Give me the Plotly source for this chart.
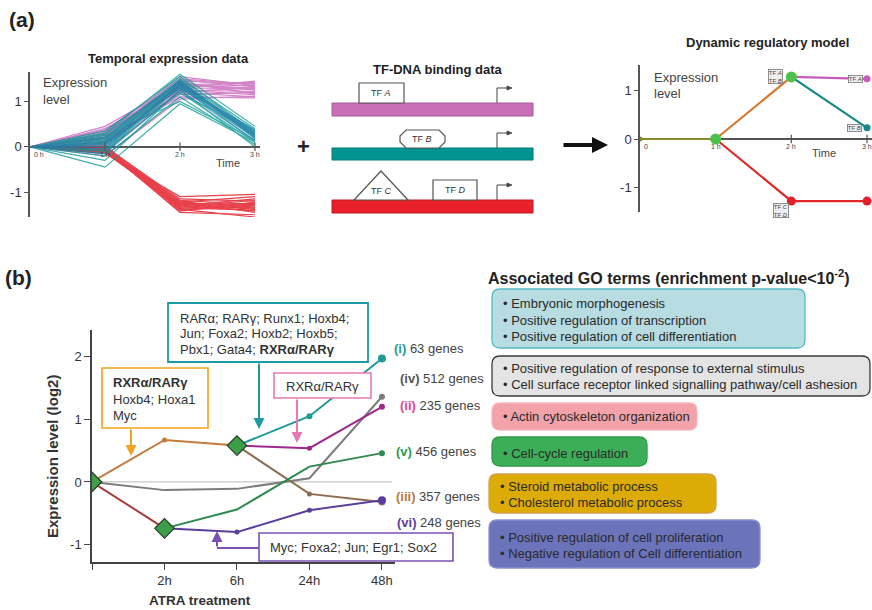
import plotly.graph_objects as go

W, H = 872, 610
FONT = "Liberation Sans, Arial, sans-serif"
TXT = "#333333"

def X(p):
    return p / W

def Y(p):
    return 1 - p / H

# ---------------- DATA ----------------
# Panel (a) left: temporal expression profiles (0h, 1h, 2h, 3h)
hours_a = [0, 1, 2, 3]
hour_labels_a = ["0 h", "1 h", "2 h", "3 h"]
magenta_profiles = [
    [0, 0.25, 1.35, 1.30], [0, 0.30, 1.45, 1.40], [0, 0.20, 1.25, 1.15], [0, 0.35, 1.50, 1.38],
    [0, 0.15, 1.20, 1.10], [0, 0.28, 1.40, 1.25], [0, 0.10, 1.15, 1.20], [0, 0.40, 1.30, 1.45],
    [0, 0.22, 1.55, 1.35], [0, 0.18, 1.10, 1.08], [0, 0.05, 1.30, 1.28], [0, -0.10, 1.25, 1.22],
    [0, 0.32, 1.42, 1.18], [0, 0.12, 1.48, 1.32], [0, -0.20, 1.05, 1.12], [0, 0.45, 1.38, 1.26],
    [0, 0.26, 1.32, 1.36], [0, 0.08, 1.44, 1.16], [0, 0.38, 1.22, 1.30], [0, 0.16, 1.36, 1.42],
]
red_profiles = [
    [0, -0.05, -1.25, -1.30], [0, 0.00, -1.15, -1.20], [0, -0.10, -1.35, -1.40], [0, -0.02, -1.30, -1.15],
    [0, -0.08, -1.20, -1.45], [0, 0.00, -1.40, -1.30], [0, -0.15, -1.10, -1.05], [0, -0.05, -1.45, -1.50],
    [0, -0.03, -1.28, -1.25], [0, -0.12, -1.32, -1.35], [0, 0.02, -1.22, -1.10], [0, -0.06, -1.38, -1.55],
    [0, -0.04, -1.18, -1.28], [0, -0.09, -1.26, -1.38], [0, 0.01, -1.33, -1.18], [0, -0.07, -1.42, -1.22],
    [0, -0.11, -1.24, -1.33], [0, -0.01, -1.36, -1.26], [0, -0.13, -1.29, -1.42], [0, -0.04, -1.21, -1.36],
]
teal_profiles = [
    [0, 0.10, 1.40, 0.30], [0, 0.20, 1.50, 0.40], [0, 0.00, 1.30, 0.20], [0, -0.10, 1.20, 0.10],
    [0, 0.30, 1.60, 0.45], [0, 0.15, 1.35, 0.25], [0, -0.20, 1.10, 0.05], [0, 0.05, 1.45, 0.35],
    [0, 0.25, 1.00, 0.15], [0, -0.30, 1.25, 0.00], [0, -0.45, 0.95, 0.10], [0, 0.35, 1.55, 0.30],
    [0, 0.12, 1.42, 0.28], [0, -0.05, 1.38, 0.22], [0, 0.18, 1.28, 0.38], [0, -0.15, 1.48, 0.18],
    [0, 0.08, 1.18, 0.32], [0, 0.22, 1.33, 0.12], [0, 0.02, 1.36, 0.26], [0, 0.14, 1.46, 0.20],
    [0, -0.08, 1.32, 0.34], [0, 0.28, 1.40, 0.24],
]
blue_profiles = [
    [0, 0.10, 1.30, 0.25], [0, -0.05, 1.40, 0.30], [0, 0.20, 1.45, 0.20],
    [0, -0.15, 1.25, 0.15], [0, 0.00, 1.38, 0.35], [0, 0.06, 1.34, 0.28],
]

# Panel (a) right: dynamic regulatory model
model_hours = [0, 1, 2, 3]
model_early = [0.0, 0.0]          # 0h -> 1h
model_up = [0.0, 1.28]            # 1h -> 2h
model_down = [0.0, -1.28]         # 1h -> 2h
model_tfA = [1.28, 1.24]          # 2h -> 3h
model_tfB = [1.28, 0.23]          # 2h -> 3h
model_tfCD = [-1.28, -1.28]       # 2h -> 3h

# Panel (b): expression paths (0, 2h, 6h, 24h, 48h)
time_b = [0, 1, 2, 3, 4]
time_labels_b = ["", "2h", "6h", "24h", "48h"]
path_i = [None, None, 0.58, 1.05, 1.97]
path_ii = [None, None, 0.58, 0.54, 1.20]
path_iii_early = [0.0, 0.67, 0.58, None, None]
path_iii_late = [None, None, 0.58, -0.19, -0.32]
path_iv = [0.0, -0.13, -0.11, 0.06, 1.36]
path_v = [None, -0.74, -0.44, 0.245, 0.46]
path_vi = [None, -0.74, -0.80, -0.45, -0.29]
path_down_early = [0.0, -0.74, None, None, None]
baseline_b = [0, 0]
baseline_x = [0, 4.14]
split_nodes_x = [0, 1, 2]
split_nodes_y = [0.0, -0.74, 0.58]

gene_labels = [
    ("(i)", "63 genes", "#1f9a96"),
    ("(iv)", "512 genes", "#555555"),
    ("(ii)", "235 genes", "#d9479a"),
    ("(v)", "456 genes", "#2e9a4e"),
    ("(iii)", "357 genes", "#b87a3c"),
    ("(vi)", "248 genes", "#5b3d9e"),
]

go_terms = [
    ["• Embryonic morphogenesis", "• Positive regulation of transcription",
     "• Positive regulation of cell differentiation"],
    ["• Positive regulation of response to external stimulus",
     "• Cell surface receptor linked signalling pathway/cell ashesion"],
    ["• Actin cytoskeleton organization"],
    ["• Cell-cycle regulation"],
    ["• Steroid metabolic process", "• Cholesterol metabolic process"],
    ["• Positive regulation of cell proliferation", "• Negative regulation of Cell differentiation"],
]

# ---------------- FIGURE ----------------
fig = go.Figure()


def cluster_trace(profiles, color, xa, ya, width=1.2, opacity=0.75):
    xs, ys = [], []
    for p in profiles:
        xs += hours_a + [None]
        ys += p + [None]
    return go.Scatter(x=xs, y=ys, mode="lines", line=dict(color=color, width=width),
                      opacity=opacity, xaxis=xa, yaxis=ya, hoverinfo="skip", showlegend=False)


fig.add_trace(cluster_trace(magenta_profiles, "#c55bb6", "x", "y"))
fig.add_trace(cluster_trace(red_profiles, "#e4202c", "x", "y", opacity=0.85))
fig.add_trace(cluster_trace(teal_profiles, "#0a9a95", "x", "y", opacity=0.8))
fig.add_trace(cluster_trace(blue_profiles, "#2d6fb5", "x", "y", opacity=0.6))
fig.add_trace(go.Scatter(x=hours_a[1:], y=[0, 0, 0], mode="markers",
                         marker=dict(symbol="line-ns", size=6, line=dict(color="#555", width=1.2)),
                         xaxis="x", yaxis="y", hoverinfo="skip", showlegend=False))

# Panel (a) right
def seg(xs, ys, color, width=2.2):
    return go.Scatter(x=xs, y=ys, mode="lines", line=dict(color=color, width=width),
                      xaxis="x2", yaxis="y2", hoverinfo="skip", showlegend=False)

fig.add_trace(seg(model_hours[0:2], model_early, "#8a8a2a"))
fig.add_trace(seg(model_hours[1:3], model_up, "#d67a32"))
fig.add_trace(seg(model_hours[1:3], model_down, "#e02a2a"))
fig.add_trace(seg(model_hours[2:4], model_tfA, "#c65cb8"))
fig.add_trace(seg(model_hours[2:4], model_tfB, "#138a86"))
fig.add_trace(seg(model_hours[2:4], model_tfCD, "#e02a2a"))
fig.add_trace(go.Scatter(x=model_hours[1:4], y=[0, 0, 0], mode="markers",
                         marker=dict(symbol="line-ns", size=6, line=dict(color="#555", width=1.2)),
                         xaxis="x2", yaxis="y2", hoverinfo="skip", showlegend=False))
fig.add_trace(go.Scatter(x=[model_hours[0]], y=[model_early[0]], mode="markers",
                         marker=dict(color="#8a8a2a", size=5), xaxis="x2", yaxis="y2",
                         hoverinfo="skip", showlegend=False))
fig.add_trace(go.Scatter(x=[model_hours[1], model_hours[2]], y=[model_early[1], model_up[1]],
                         mode="markers", marker=dict(color="#4cc24c", size=11),
                         xaxis="x2", yaxis="y2", hoverinfo="skip", showlegend=False))
fig.add_trace(go.Scatter(x=[model_hours[2], model_hours[3]], y=[model_down[1], model_tfCD[1]],
                         mode="markers", marker=dict(color="#e4202c", size=9),
                         xaxis="x2", yaxis="y2", hoverinfo="skip", showlegend=False))
fig.add_trace(go.Scatter(x=[model_hours[3]], y=[model_tfA[1]], mode="markers",
                         marker=dict(color="#c65cb8", size=7), xaxis="x2", yaxis="y2",
                         hoverinfo="skip", showlegend=False))
fig.add_trace(go.Scatter(x=[model_hours[3]], y=[model_tfB[1]], mode="markers",
                         marker=dict(color="#138a86", size=7), xaxis="x2", yaxis="y2",
                         hoverinfo="skip", showlegend=False))

# Panel (b)
def bline(ys, color, width=2):
    return go.Scatter(x=time_b, y=ys, mode="lines", line=dict(color=color, width=width),
                      connectgaps=False, xaxis="x3", yaxis="y3", hoverinfo="skip", showlegend=False)

def bdots(idx, ys, color, size):
    return go.Scatter(x=[time_b[i] for i in idx], y=[ys[i] for i in idx], mode="markers",
                      marker=dict(color=color, size=size), xaxis="x3", yaxis="y3",
                      hoverinfo="skip", showlegend=False)

fig.add_trace(go.Scatter(x=baseline_x, y=baseline_b, mode="lines",
                         line=dict(color="#c8c8c8", width=1.2), xaxis="x3", yaxis="y3",
                         hoverinfo="skip", showlegend=False))
fig.add_trace(bline(path_iv, "#7c7c7c"))
fig.add_trace(bline(path_iii_late, "#8c6c50"))
fig.add_trace(bline(path_iii_early, "#c47a3a"))
fig.add_trace(bline(path_down_early, "#a83c3c"))
fig.add_trace(bline(path_v, "#2e8a4e"))
fig.add_trace(bline(path_vi, "#5b3d9e"))
fig.add_trace(bline(path_ii, "#9c2a8c"))
fig.add_trace(bline(path_i, "#1f9a96"))
fig.add_trace(bdots([1], path_iii_early, "#c47a3a", 5))
fig.add_trace(bdots([3], path_iii_late, "#8c6c50", 5))
fig.add_trace(bdots([4], path_iii_late, "#8c6c50", 7))
fig.add_trace(bdots([4], path_iv, "#7c7c7c", 6))
fig.add_trace(bdots([3], path_ii, "#9c2a8c", 5))
fig.add_trace(bdots([4], path_ii, "#9c2a8c", 6))
fig.add_trace(bdots([3], path_i, "#1f9a96", 6))
fig.add_trace(bdots([4], path_i, "#1f9a96", 8))
fig.add_trace(bdots([4], path_v, "#2e8a4e", 6))
fig.add_trace(bdots([2, 3], path_vi, "#5b3d9e", 5))
fig.add_trace(bdots([4], path_vi, "#5b3d9e", 8))
fig.add_trace(go.Scatter(x=split_nodes_x, y=split_nodes_y, mode="markers",
                         marker=dict(symbol="diamond", size=15, color="#3d9e4a",
                                     line=dict(color="#2a3a2a", width=1.2)),
                         xaxis="x3", yaxis="y3", hoverinfo="skip", showlegend=False))

# ---------------- AXES ----------------
ax_common = dict(showgrid=False, fixedrange=True)
fig.update_layout(
    xaxis=dict(domain=[X(30), X(260)], range=[0, 3.067], showline=False, zeroline=False,
               showticklabels=False, ticks="", anchor="y", **ax_common),
    yaxis=dict(domain=[Y(217), Y(72)], range=[-1.55, 1.65], showline=True, linecolor="#555",
               linewidth=1.5, ticks="outside", ticklen=4, tickcolor="#555",
               tickvals=[-1, 0, 1], ticktext=["-1", "0", "1"], zeroline=True,
               zerolinecolor="#555", zerolinewidth=1.5, anchor="x",
               tickfont=dict(family=FONT, size=13, color=TXT), **ax_common),
    xaxis2=dict(domain=[X(640), 1.0], range=[0, 3.066], showline=False, zeroline=False,
                showticklabels=False, ticks="", anchor="y2", **ax_common),
    yaxis2=dict(domain=[Y(212), Y(65)], range=[-1.505, 1.526], showline=True, linecolor="#555",
                linewidth=1.5, ticks="outside", ticklen=4, tickcolor="#555",
                tickvals=[-1, 0, 1], ticktext=["-1", "0", "1"], zeroline=True,
                zerolinecolor="#555", zerolinewidth=1.5, anchor="x2",
                tickfont=dict(family=FONT, size=13, color=TXT), **ax_common),
    xaxis3=dict(domain=[X(92), X(395)], range=[0, 4.18], showline=True, linecolor="#444",
                linewidth=1.5, ticks="outside", ticklen=6, tickcolor="#444",
                tickvals=time_b, ticktext=time_labels_b, zeroline=False, anchor="y3",
                tickfont=dict(family=FONT, size=13, color=TXT), **ax_common),
    yaxis3=dict(domain=[Y(562), Y(330)], range=[-1.277, 2.425], showline=True, linecolor="#444",
                linewidth=1.5, ticks="outside", ticklen=6, tickcolor="#444",
                tickvals=[-1, 0, 1, 2], ticktext=["-1", "0", "1", "2"], zeroline=False,
                anchor="x3", tickfont=dict(family=FONT, size=13, color=TXT), **ax_common),
)

# ---------------- SHAPES & ANNOTATIONS ----------------
shapes = []
ann = []


def txt(x, y, s, size=13, color=TXT, xanchor="left", yanchor="middle", angle=0):
    ann.append(dict(x=X(x), y=Y(y), xref="paper", yref="paper", text=s, showarrow=False,
                    xanchor=xanchor, yanchor=yanchor, textangle=angle,
                    font=dict(family=FONT, size=size, color=color)))


def rect(x0, y0, x1, y1, fill="white", line="#555", lw=1.2):
    shapes.append(dict(type="rect", xref="paper", yref="paper", x0=X(x0), x1=X(x1),
                       y0=Y(y1), y1=Y(y0), fillcolor=fill, line=dict(color=line, width=lw)))


def poly(pts, fill="white", line="#555", lw=1.2, closed=True):
    d = "M " + " L ".join(f"{X(a):.5f},{Y(b):.5f}" for a, b in pts)
    if closed:
        d += " Z"
    shapes.append(dict(type="path", xref="paper", yref="paper", path=d,
                       fillcolor=fill if closed else None, line=dict(color=line, width=lw)))


def rrect(x0, y0, x1, y1, r, fill, line, lw=1.3):
    def P(a, b):
        return f"{X(a):.5f},{Y(b):.5f}"
    d = (f"M {P(x0 + r, y0)} L {P(x1 - r, y0)} Q {P(x1, y0)} {P(x1, y0 + r)} "
         f"L {P(x1, y1 - r)} Q {P(x1, y1)} {P(x1 - r, y1)} L {P(x0 + r, y1)} "
         f"Q {P(x0, y1)} {P(x0, y1 - r)} L {P(x0, y0 + r)} Q {P(x0, y0)} {P(x0 + r, y0)} Z")
    shapes.append(dict(type="path", xref="paper", yref="paper", path=d, fillcolor=fill,
                       line=dict(color=line, width=lw)))


def arrow(xt, yt, ax, ay, color, width=2, head=2, size=1.0):
    ann.append(dict(x=X(xt), y=Y(yt), xref="paper", yref="paper", text="", showarrow=True,
                    ax=ax, ay=ay, arrowcolor=color, arrowwidth=width, arrowhead=head,
                    arrowsize=size, standoff=0, startstandoff=0, font=dict(size=10)))


# Panel labels
txt(7, 19, "<b>(a)</b>", size=21, color="#222")
txt(3, 277, "<b>(b)</b>", size=21, color="#222")

# ---- (a) left
txt(168, 58, "<b>Temporal expression data</b>", size=13, color="#222", xanchor="center")
txt(41, 83, "Expression", size=13, color="#444")
txt(41, 100, "level", size=13, color="#444")
for h, lab in zip(hours_a, hour_labels_a):
    ann.append(dict(x=h, y=0, xref="x", yref="y", text=lab, showarrow=False,
                    xanchor="left" if h == 0 else "center", yanchor="top", yshift=-2,
                    xshift=2 if h == 0 else 0,
                    font=dict(family=FONT, size=7, color="#444")))
txt(214, 163, "Time", size=11, color="#444")

# ---- (a) middle: TF-DNA binding
txt(438, 69, "<b>TF-DNA binding data</b>", size=13, color="#222", xanchor="center")
bars = [(103, 116, "#c86fb8", "#a85a98"), (148, 160, "#009590", "#007a75"),
        (200, 213, "#e8202a", "#c01820")]
for (t, b, fc, lc) in bars:
    rect(332, t, 533, b, fill=fc, line=lc, lw=1)
    poly([(497, t), (497, t - 15), (508, t - 15)], line="#444", lw=1, closed=False)
    poly([(507, t - 17), (512, t - 15), (507, t - 13)], fill="#444", line="#444", lw=0.8)
rect(359, 83, 404, 103)
txt(381, 93, "TF <i>A</i>", size=9, color="#333", xanchor="center")
poly([(406, 130), (439, 130), (445, 136), (445, 142), (439, 148), (406, 148), (400, 142), (400, 136)])
txt(422, 139, "TF <i>B</i>", size=9, color="#333", xanchor="center")
poly([(354, 200), (381, 171), (408, 200)])
txt(381, 191, "TF <i>C</i>", size=9, color="#333", xanchor="center")
rect(433, 180, 477, 200)
txt(455, 190, "TF <i>D</i>", size=9, color="#333", xanchor="center")
txt(303, 146, "<b>+</b>", size=22, color="#222", xanchor="center")
arrow(608, 145, -46, 0, "#111", width=4, head=2, size=0.8)

# ---- (a) right
txt(767, 42, "<b>Dynamic regulatory model</b>", size=13, color="#222", xanchor="center")
txt(652, 78, "Expression", size=13, color="#444")
txt(652, 94, "level", size=13, color="#444")
for h, lab in zip(model_hours, ["0", "1 h", "2 h", "3 h"]):
    ann.append(dict(x=h, y=0, xref="x2", yref="y2", text=lab, showarrow=False,
                    xanchor="left" if h == 0 else "center", yanchor="top", yshift=-2,
                    xshift=2 if h == 0 else 0,
                    font=dict(family=FONT, size=7, color="#444")))
txt(810, 153, "Time", size=11, color="#444")
tf_tag = dict(showarrow=False, bgcolor="#eeeeee", bordercolor="#777", borderwidth=0.8, borderpad=0,
              font=dict(family=FONT, size=6, color="#444"))
ann.append(dict(x=model_hours[2], y=model_up[1], xref="x2", yref="y2", text="TF <i>A</i><br>TF <i>B</i>",
                xanchor="right", yanchor="middle", xshift=-8, **tf_tag))
ann.append(dict(x=model_hours[3], y=model_tfA[1], xref="x2", yref="y2", text="TF <i>A</i>",
                xanchor="right", yanchor="middle", xshift=-4, **tf_tag))
ann.append(dict(x=model_hours[3], y=model_tfB[1], xref="x2", yref="y2", text="TF <i>B</i>",
                xanchor="right", yanchor="middle", xshift=-5, **tf_tag))
ann.append(dict(x=model_hours[2], y=model_down[1], xref="x2", yref="y2", text="TF <i>C</i><br>TF <i>D</i>",
                xanchor="right", yanchor="top", xshift=-2, yshift=-2, **tf_tag))

# ---- (b) chart labels
txt(52, 457, "<b>Expression level (log2)</b>", size=15, color="#333", xanchor="center", angle=-90)
txt(200, 600, "<b>ATRA treatment</b>", size=13.5, color="#333", xanchor="center")

gene_y = [348, 378, 405, 451, 496, 522]
gene_x = [392, 398, 398, 394, 394, 395]
for (num, lab, col), yy, xx in zip(gene_labels, gene_y, gene_x):
    txt(xx, yy, f"<span style='color:{col}'><b>{num}</b></span> {lab}", size=13, color="#444")

# Orange box
rect(102, 368, 208, 428, line="#f2a21e", lw=1.6)
txt(111, 382, "<b>RXRα/RARγ</b>", size=13)
txt(111, 399, "Hoxb4; Hoxa1", size=13)
txt(111, 415, "Myc", size=13)
arrow(131, 456, 0, -28, "#f2a21e", width=2, head=2, size=1.1)

# Teal box
rect(168, 303, 368, 362, line="#1f9aa4", lw=1.8)
txt(178, 318, "RARα; RARγ; Runx1; Hoxb4;", size=13)
txt(178, 333, "Jun; Foxa2; Hoxb2; Hoxb5;", size=13)
txt(178, 349, "Pbx1; Gata4; <b>RXRα/RARγ</b>", size=13)
arrow(259, 429, 0, -67, "#1f9aa4", width=2, head=2, size=1.1)

# Pink box
rect(274, 373, 371, 398, line="#e57ab4", lw=1.6)
txt(322.5, 386, "RXRα/RARγ", size=13, xanchor="center")
arrow(297, 443, 0, -45, "#e57ab4", width=2, head=2, size=1.1)

# Purple box
rect(259, 533, 453, 561, line="#7a50b4", lw=1.6)
txt(268, 547, "Myc; Foxa2; Jun; Egr1; Sox2", size=13)
poly([(259, 548), (217, 548)], line="#7a50b4", lw=2, closed=False)
arrow(217, 531, 0, 17, "#7a50b4", width=2, head=2, size=1.1)

# ---- GO terms
txt(486, 277, "<b>Associated GO terms (enrichment p-value<10<sup>-2</sup>)</b>", size=16, color="#222")
go_boxes = [
    (492, 289, 805, 348, "#b7dce1", "#55b8c5", [303.5, 320, 336.5]),
    (492, 356, 870, 396, "#e4e4e4", "#3a3a3a", [368.5, 384.5]),
    (492, 403, 697, 430, "#f2a2a8", "#f6b4bd", [416.5]),
    (492, 437, 647, 466, "#3cae58", "#2f9a48", [453]),
    (489, 474, 716, 513, "#dcab06", "#d0a04a", [486.5, 502.5]),
    (489, 520, 760, 568, "#6b73bb", "#8a90d0", [537, 553.5]),
]
for (x0, y0, x1, y1, fc, lc, ys), lines in zip(go_boxes, go_terms):
    rrect(x0, y0, x1, y1, 8, fc, lc)
    for yy, s in zip(ys, lines):
        txt(x0 + 9, yy, s, size=13, color="#2a2a2a")

fig.update_layout(
    width=W, height=H, margin=dict(l=0, r=0, t=0, b=0),
    paper_bgcolor="white", plot_bgcolor="rgba(0,0,0,0)",
    shapes=shapes, annotations=ann, showlegend=False,
    font=dict(family=FONT, color=TXT),
)

fig.write_html("out.html", config={"displayModeBar": False},
               post_script="document.body.style.margin='0px';document.body.style.overflow='hidden';")
